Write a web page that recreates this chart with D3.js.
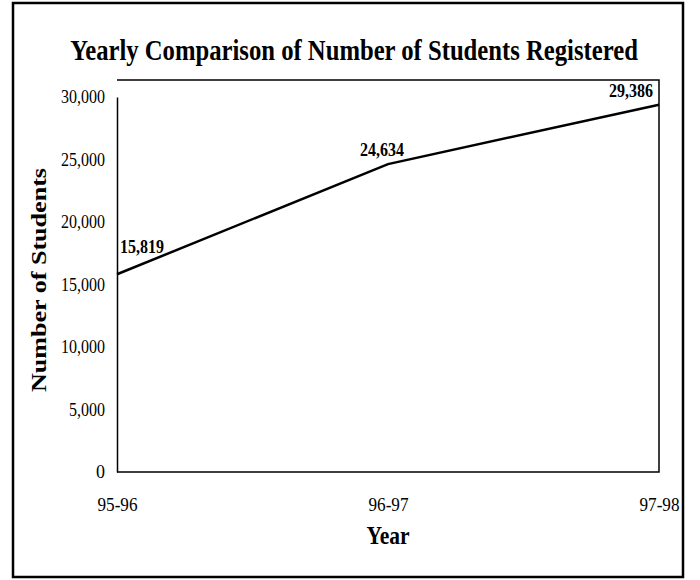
<!DOCTYPE html>
<html>
<head>
<meta charset="utf-8">
<script src="https://cdn.jsdelivr.net/npm/d3@7"></script>
<style>
  body { margin: 0; background: #fff; }
  text { font-family: "Liberation Serif", "Times New Roman", serif; fill: #000; }
</style>
</head>
<body>
<svg width="700" height="580"></svg>
<script>
// data
const years = ['95-96', '96-97', '97-98'];
const students = [15819, 24634, 29386];
const yTicks = [0, 5000, 10000, 15000, 20000, 25000, 30000];

(function() {
	const svg = d3.select('svg');

	const margin = { left: 117, right: 41, top: 97, bottom: 108 };
	const width = 700 - margin.left - margin.right;
	const height = 580 - margin.top - margin.bottom;
	const boxTop = -17; // plot frame sits a bit above the 30,000 line

	// outer frame
	svg.append('rect')
		.attr('x', 13).attr('y', 3)
		.attr('width', 670).attr('height', 574)
		.attr('fill', 'none')
		.attr('stroke', '#000')
		.attr('stroke-width', 2.5);

	// title, squeezed horizontally like the condensed face in the scan
	const title = svg.append('g')
		.attr('transform', 'translate(354, 60)');
	const titleText = title.append('text')
		.attr('text-anchor', 'middle')
		.attr('font-size', 30)
		.attr('font-weight', 'bold')
		.text('Yearly Comparison of Number of Students Registered');
	const natural = titleText.node().getComputedTextLength();
	titleText.attr('transform', `scale(${568 / natural}, 1)`);

	const g = svg.append('g')
		.attr('transform', `translate(${margin.left}, ${margin.top})`);

	const x = d3.scalePoint().domain(years).range([0, width]);
	const y = d3.scaleLinear().domain([0, 30000]).range([height, 0]);

	// plot frame: top, right and bottom sides
	g.append('path')
		.attr('d', `M0,${boxTop}H${width}V${height}H0`)
		.attr('fill', 'none')
		.attr('stroke', '#000')
		.attr('stroke-width', 1.5);

	const yAxis = g.append('g')
		.call(d3.axisLeft(y).tickValues(yTicks).tickSize(0).tickPadding(12)
			.tickFormat(d3.format(',')));
	yAxis.select('.domain')
		.attr('stroke-width', 1.5);
	yAxis.selectAll('text')
		.attr('font-size', 18)
		.attr('font-family', '"Liberation Serif", serif')
		.attr('textLength', d => d === 0 ? null : (d < 10000 ? 36 : 44))
		.attr('lengthAdjust', 'spacingAndGlyphs');

	const xAxis = g.append('g')
		.attr('transform', `translate(0, ${height})`)
		.call(d3.axisBottom(x).tickSize(0).tickPadding(26));
	xAxis.select('.domain').remove();
	xAxis.selectAll('text')
		.attr('font-size', 18)
		.attr('font-family', '"Liberation Serif", serif')
		.attr('textLength', 40)
		.attr('lengthAdjust', 'spacingAndGlyphs');

	const line = d3.line()
		.x((d, i) => x(years[i]))
		.y(d => y(d));

	g.append('path')
		.datum(students)
		.attr('d', line)
		.attr('fill', 'none')
		.attr('stroke', '#000')
		.attr('stroke-width', 2.5);

	// value labels
	const anchors = ['start', 'middle', 'end'];
	const dx = [3, -6, -6];
	const dy = [-21, -8, -8];
	g.selectAll('.val')
		.data(students)
		.join('text')
		.attr('class', 'val')
		.attr('x', (d, i) => x(years[i]) + dx[i])
		.attr('y', (d, i) => y(d) + dy[i])
		.attr('text-anchor', (d, i) => anchors[i])
		.attr('font-size', 18)
		.attr('font-weight', 'bold')
		.attr('textLength', 44)
		.attr('lengthAdjust', 'spacingAndGlyphs')
		.text(d3.format(','));

	svg.append('text')
		.attr('x', margin.left + width / 2).attr('y', 544)
		.attr('text-anchor', 'middle')
		.attr('font-size', 25)
		.attr('font-weight', 'bold')
		.attr('textLength', 43)
		.attr('lengthAdjust', 'spacingAndGlyphs')
		.text('Year');

	svg.append('text')
		.attr('transform', `translate(46, 280) rotate(-90)`)
		.attr('text-anchor', 'middle')
		.attr('font-size', 22)
		.attr('font-weight', 'bold')
		.attr('textLength', 224)
		.attr('lengthAdjust', 'spacingAndGlyphs')
		.text('Number of Students');
})();
</script>
</body>
</html>
